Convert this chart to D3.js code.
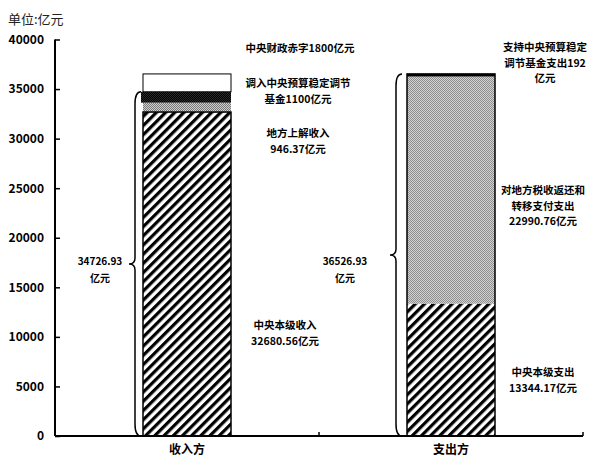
<!DOCTYPE html>
<html><head><meta charset="utf-8">
<script src="https://cdn.jsdelivr.net/npm/d3@7/dist/d3.min.js"></script>
<style>
body{margin:0;background:#fff;}
text{font-family:"Noto Sans CJK SC","Noto Sans",sans-serif;}
</style></head>
<body><svg id="c" width="596" height="461"></svg>
<script>
// ---- data ----
const categories = ["收入方", "支出方"];
const incomeSegments = ["中央本级收入", "地方上解收入", "调入中央预算稳定调节基金", "中央财政赤字"];
const incomeValues = [32680.56, 946.37, 1100, 1800];
const expenseSegments = ["中央本级支出", "对地方税收返还和转移支付支出", "补充中央预算稳定调节基金"];
const expenseValues = [13344.17, 22990.76, 192];
const yTicks = [0, 5000, 10000, 15000, 20000, 25000, 30000, 35000, 40000];
const braceTotals = [34726.93, 36526.93];
const braceLabels = ["34726.93", "36526.93"];
const unitLabel = "单位:亿元";

const svg = d3.select("#c");
const x = d3.scaleBand().domain(categories).range([55, 583]);
const y = d3.scaleLinear().domain([0, 40000]).range([436, 39.5]);
const bw = x.bandwidth() / 3;

// patterns
const defs = svg.append("defs");
const hatch = defs.append("pattern").attr("id", "hatch").attr("patternUnits", "userSpaceOnUse")
  .attr("width", 6.5).attr("height", 6.5).attr("patternTransform", "rotate(45)");
hatch.append("rect").attr("width", 6.5).attr("height", 6.5).attr("fill", "#fff");
hatch.append("rect").attr("width", 3.2).attr("height", 6.5).attr("fill", "#000");

function dots(id, bg, fg) {
  const p = defs.append("pattern").attr("id", id).attr("patternUnits", "userSpaceOnUse")
    .attr("width", 2).attr("height", 2);
  p.append("rect").attr("width", 2).attr("height", 2).attr("fill", bg);
  p.append("rect").attr("width", 1).attr("height", 1).attr("fill", fg);
  p.append("rect").attr("x", 1).attr("y", 1).attr("width", 1).attr("height", 1).attr("fill", fg);
}
dots("dotGray", "#d0d0d0", "#777");
dots("dotLight", "#d2d2d2", "#8e8e8e");
dots("dotDark", "#000", "#2a2a2a");

function stack(vals) {
  let acc = 0;
  return vals.map((v, i) => { const s = acc; acc += v; return { i, y0: s, y1: acc, v }; });
}

// income bar
const incFills = ["url(#hatch)", "url(#dotGray)", "url(#dotDark)", "#fff"];
const inc = stack(incomeValues);
const gInc = svg.append("g");
gInc.selectAll("rect").data(inc).join("rect")
  .attr("x", d => x(categories[0]) + bw - (d.i === 2 ? 2 : 0))
  .attr("width", d => bw + (d.i === 2 ? 2 : 0))
  .attr("y", d => y(d.y1))
  .attr("height", d => y(d.y0) - y(d.y1))
  .attr("fill", d => incFills[d.i])
  .attr("stroke", d => d.i === 3 ? "#000" : "none")
  .attr("stroke-width", 1);
gInc.append("rect").attr("x", x(categories[0]) + bw).attr("width", bw)
  .attr("y", y(inc[0].y1)).attr("height", y(0) - y(inc[0].y1))
  .attr("fill", "none").attr("stroke", "#000").attr("stroke-width", 1.5);

// expense bar
const expFills = ["url(#hatch)", "url(#dotLight)", "#000"];
const exp = stack(expenseValues);
const gExp = svg.append("g");
gExp.selectAll("rect").data(exp).join("rect")
  .attr("x", x(categories[1]) + bw)
  .attr("width", bw)
  .attr("y", d => y(d.y1))
  .attr("height", d => Math.max(2.5, y(d.y0) - y(d.y1)))
  .attr("fill", d => expFills[d.i]);
gExp.append("rect").attr("x", x(categories[1]) + bw).attr("width", bw)
  .attr("y", y(exp[2].y1)).attr("height", y(0) - y(exp[2].y1))
  .attr("fill", "none").attr("stroke", "#000").attr("stroke-width", 1.5);

// y axis
const yAxis = d3.axisLeft(y).tickValues(yTicks).tickSize(-5).tickPadding(11).tickFormat(d3.format("d"));
const gy = svg.append("g").attr("transform", "translate(55,0)").call(yAxis);
gy.select(".domain").attr("stroke-width", 2).attr("d", `M0,${y(40000)}V${y(0)}`);
gy.selectAll(".tick line").attr("stroke-width", 1.5);
gy.selectAll("text").attr("font-size", 12).attr("font-weight", "bold")
  .attr("font-family", "'Liberation Sans Narrow','DejaVu Sans Condensed',sans-serif").attr("fill", "#000");

// x axis
const xAxis = d3.axisBottom(x).tickSize(0).tickPadding(9);
const gx = svg.append("g").attr("transform", `translate(0,${y(0)})`).call(xAxis);
gx.select(".domain").attr("stroke-width", 2).attr("d", "M55,0H583");
gx.selectAll("text").attr("font-size", 12).attr("font-weight", "bold").attr("fill", "#000");
svg.selectAll(".btick").data([x(categories[1]), x(categories[1]) + x.bandwidth()]).join("line")
  .attr("x1", d => d).attr("x2", d => d).attr("y1", y(0)).attr("y2", y(0) - 4)
  .attr("stroke", "#000").attr("stroke-width", 1.5);

// braces
function brace(xl, yTop, yBot, tipX, curlX) {
  const mid = (yTop + yBot) / 2;
  return `M${curlX},${yTop} Q${xl},${yTop} ${xl},${yTop + 12} L${xl},${mid - 6} Q${xl},${mid} ${tipX},${mid} ` +
         `Q${xl},${mid} ${xl},${mid + 6} L${xl},${yBot - 12} Q${xl},${yBot} ${curlX},${yBot}`;
}
const braceX = [x(categories[0]) + bw - 8, x(categories[1]) + bw - 11];
braceTotals.forEach((t, i) => {
  svg.append("path").attr("d", brace(braceX[i], y(t), y(0), braceX[i] - 6, braceX[i] + 6))
    .attr("fill", "none").attr("stroke", "#000").attr("stroke-width", 1.5);
});
const bl = [{x: 100, y: 265}, {x: 345, y: 265}];
braceLabels.forEach((s, i) => {
  const t = svg.append("text").attr("x", bl[i].x).attr("y", bl[i].y).attr("text-anchor", "middle")
    .attr("font-size", 10).attr("font-weight", "bold").attr("fill", "#000");
  t.append("tspan").attr("x", bl[i].x).text(s);
  t.append("tspan").attr("x", bl[i].x).attr("dy", 17).text("亿元");
});

// annotations
function label(cx, cy, lines) {
  const t = svg.append("text").attr("text-anchor", "middle").attr("font-size", 10.5)
    .attr("font-weight", "bold").attr("fill", "#000");
  lines.forEach((l, k) => t.append("tspan").attr("x", cx).attr("y", cy + k * 15.5).text(l));
}
label(300, 52, ["中央财政赤字1800亿元"]);
label(298, 87, ["调入中央预算稳定调节", "基金1100亿元"]);
label(298, 137, ["地方上解收入", "946.37亿元"]);
label(285, 329, ["中央本级收入", "32680.56亿元"]);
label(545, 51, ["支持中央预算稳定", "调节基金支出192", "亿元"]);
label(543, 194, ["对地方税收返还和", "转移支付支出", "22990.76亿元"]);
label(543, 376, ["中央本级支出", "13344.17亿元"]);

svg.append("text").attr("x", 8).attr("y", 24).attr("font-size", 13).attr("fill", "#222").text(unitLabel);
</script></body></html>
